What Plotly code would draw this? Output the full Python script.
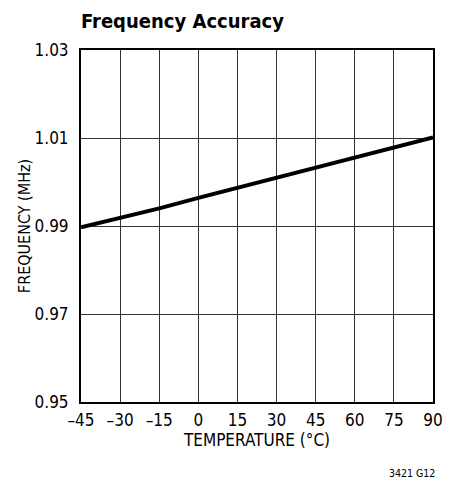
import plotly.graph_objects as go

temperature = [-45, -30, -15, 0, 15, 30, 45, 60, 75, 90]
frequency = [0.9897, 0.9918, 0.9940, 0.9964, 0.9987, 1.0009, 1.0032, 1.0055, 1.0079, 1.0101]

x_ticks = [-45, -30, -15, 0, 15, 30, 45, 60, 75, 90]
x_tick_text = ["\u201345", "\u201330", "\u201315", "0", "15", "30", "45", "60", "75", "90"]
y_ticks = [0.95, 0.97, 0.99, 1.01, 1.03]
y_tick_text = ["0.95", "0.97", "0.99", "1.01", "1.03"]

FONT = "DejaVu Sans Condensed, Liberation Sans Narrow, sans-serif"

# page body has an 8px margin; figure is sized/placed to compensate
W, H = 446, 474

fig = go.Figure()
fig.add_trace(go.Scatter(x=temperature, y=frequency, mode="lines",
                         line=dict(color="black", width=4), showlegend=False))

fig.update_layout(
    width=W, height=H,
    margin=dict(l=73, r=21, t=42, b=80),
    paper_bgcolor="white", plot_bgcolor="white",
    font=dict(family=FONT, size=17, color="black"),
    title=dict(text="<b>Frequency Accuracy</b>", x=73/W, xanchor="left",
               y=1 - 13/H, yanchor="middle",
               font=dict(family=FONT, size=20, color="black")),
    xaxis=dict(range=[-45, 90], tickvals=x_ticks, ticktext=x_tick_text,
               showgrid=True, gridcolor="#333333", gridwidth=1,
               showline=True, linecolor="black", linewidth=2, mirror=True,
               ticks="", ticklen=0, zeroline=False, ticklabelstandoff=2,
               title=dict(text="TEMPERATURE (\u00b0C)", standoff=4,
                          font=dict(family=FONT, size=17))),
    yaxis=dict(range=[0.95, 1.03], tickvals=y_ticks, ticktext=y_tick_text,
               showgrid=True, gridcolor="#333333", gridwidth=1,
               showline=True, linecolor="black", linewidth=2, mirror=True,
               ticks="", ticklen=0, zeroline=False, ticklabelstandoff=7,
               title=dict(text="FREQUENCY (MHz)", standoff=0,
                          font=dict(family=FONT, size=16))),
)

fig.add_annotation(text="3421 G12", xref="paper", yref="paper",
                   x=(437 - 81) / 352, y=-71/352, xanchor="right", yanchor="middle",
                   showarrow=False, font=dict(family=FONT, size=10.5, color="black"))

fig.write_html("out.html")
